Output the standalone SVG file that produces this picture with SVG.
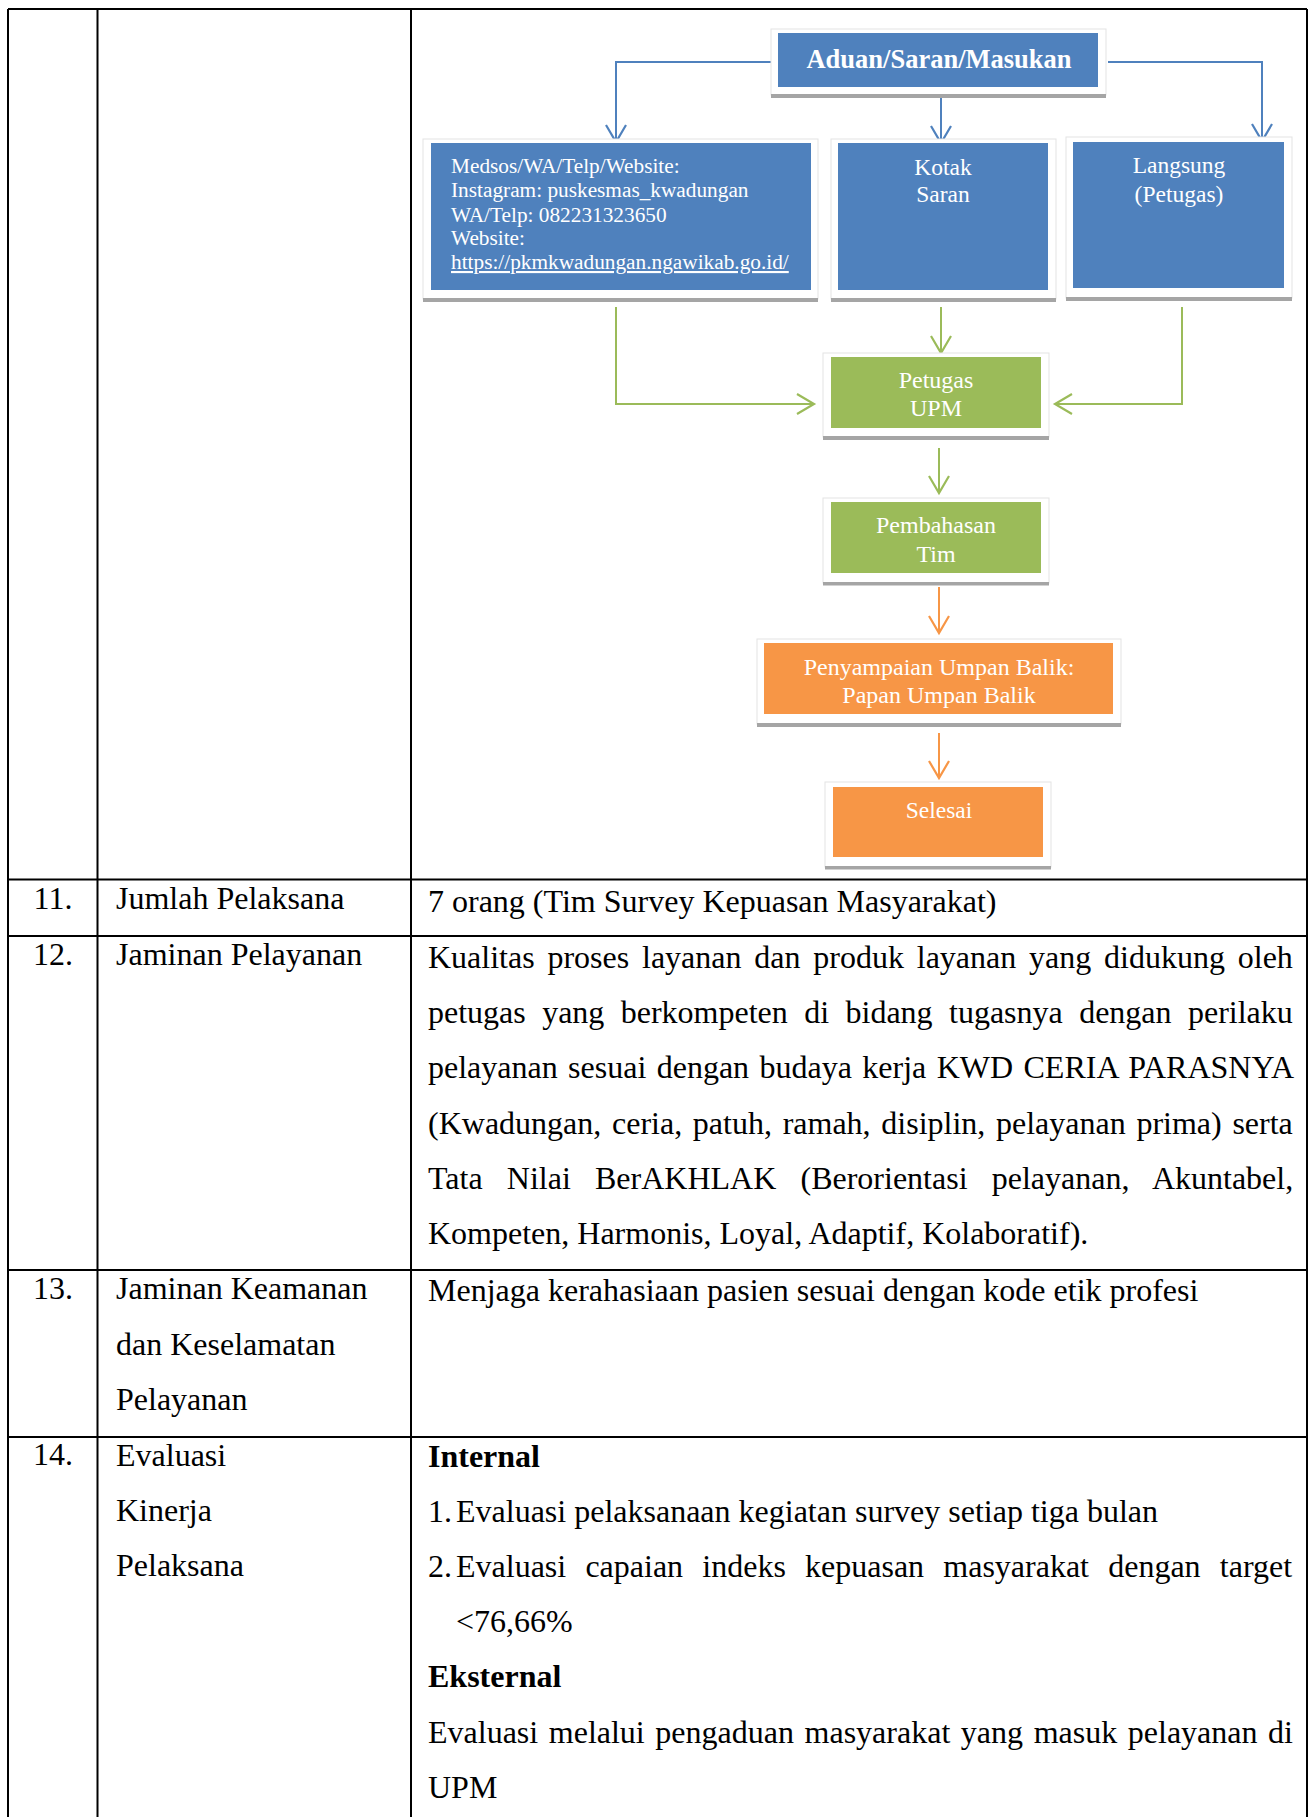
<svg xmlns="http://www.w3.org/2000/svg" width="1309" height="1817" viewBox="0 0 1309 1817">
<style>
.t{font-family:"Liberation Serif","Times New Roman",serif;font-size:32px;fill:#000}
.b{font-weight:bold}
.w{font-family:"Liberation Serif","Times New Roman",serif;fill:#fff}
.frame{fill:#fff;stroke:#e3e3e3;stroke-width:1}
.bar{fill:#a5a5a5}
.blue{fill:#4f81bd}
.green{fill:#9bbb59}
.orange{fill:#f79646}
.grid{stroke:#000;stroke-width:2;fill:none}
.cb{stroke:#4f81bd;stroke-width:2;fill:none}
.cg{stroke:#9bbb59;stroke-width:2;fill:none}
.co{stroke:#f79646;stroke-width:2;fill:none}
</style>
<defs>
<marker id="mb" markerUnits="userSpaceOnUse" markerWidth="30" markerHeight="30" viewBox="-22 -15 30 30" refX="0" refY="0" orient="auto"><path d="M-17,-10 L0,0 L-17,10" fill="none" stroke="#4f81bd" stroke-width="2.2"/></marker>
<marker id="mg" markerUnits="userSpaceOnUse" markerWidth="30" markerHeight="30" viewBox="-22 -15 30 30" refX="0" refY="0" orient="auto"><path d="M-17,-10 L0,0 L-17,10" fill="none" stroke="#9bbb59" stroke-width="2.2"/></marker>
<marker id="mo" markerUnits="userSpaceOnUse" markerWidth="30" markerHeight="30" viewBox="-22 -15 30 30" refX="0" refY="0" orient="auto"><path d="M-17,-10 L0,0 L-17,10" fill="none" stroke="#f79646" stroke-width="2.2"/></marker>
</defs>
<rect width="1309" height="1817" fill="#fff"/>

<g id="table">
<path class="grid" d="M8,9 H1307 M8,9 V1817 M97.5,9 V1817 M411,9 V1817 M1307,9 V1817 M8,879.5 H1307 M8,936 H1307 M8,1270 H1307 M8,1437 H1307"/>
</g>

<g id="connectors">
<path class="cb" d="M771,62 H616 V142" marker-end="url(#mb)"/>
<path class="cb" d="M1108,62 H1262 V141" marker-end="url(#mb)"/>
<path class="cb" d="M941,98 V143" marker-end="url(#mb)"/>
<path class="cg" d="M616,307 V404 H814" marker-end="url(#mg)"/>
<path class="cg" d="M941,307 V353" marker-end="url(#mg)"/>
<path class="cg" d="M1182,307 V404 H1055" marker-end="url(#mg)"/>
<path class="cg" d="M939,448 V493" marker-end="url(#mg)"/>
<path class="co" d="M939,587 V633" marker-end="url(#mo)"/>
<path class="co" d="M939,733 V778" marker-end="url(#mo)"/>
</g>

<g id="node-aduan">
<rect class="frame" x="771" y="29" width="335" height="66"/>
<rect class="bar" x="771" y="94" width="335" height="4"/>
<rect class="blue" x="778" y="33" width="320" height="54"/>
<text class="w b" x="939" y="68" font-size="26.5" text-anchor="middle">Aduan/Saran/Masukan</text>
</g>

<g id="node-medsos">
<rect class="frame" x="423" y="139" width="395" height="160"/>
<rect class="bar" x="423" y="298" width="395" height="4"/>
<rect class="blue" x="431" y="143" width="380" height="147"/>
<text class="w" font-size="21.3"><tspan x="451" y="173">Medsos/WA/Telp/Website:</tspan><tspan x="451" y="197">Instagram: puskesmas_kwadungan</tspan><tspan x="451" y="221.5">WA/Telp: 082231323650</tspan><tspan x="451" y="245">Website:</tspan><tspan x="451" y="269" text-decoration="underline">https://pkmkwadungan.ngawikab.go.id/</tspan></text>
</g>

<g id="node-kotak">
<rect class="frame" x="831" y="139" width="225" height="160"/>
<rect class="bar" x="831" y="298" width="225" height="4"/>
<rect class="blue" x="838" y="143" width="210" height="147"/>
<text class="w" font-size="23.5" text-anchor="middle"><tspan x="943" y="175">Kotak</tspan><tspan x="943" y="202">Saran</tspan></text>
</g>

<g id="node-langsung">
<rect class="frame" x="1066" y="137" width="226" height="161"/>
<rect class="bar" x="1066" y="297" width="226" height="4"/>
<rect class="blue" x="1073" y="142" width="211" height="146"/>
<text class="w" font-size="23.5" text-anchor="middle"><tspan x="1179" y="173">Langsung</tspan><tspan x="1179" y="201.5">(Petugas)</tspan></text>
</g>

<g id="node-petugas">
<rect class="frame" x="823" y="353" width="226" height="84"/>
<rect class="bar" x="823" y="436" width="226" height="4"/>
<rect class="green" x="831" y="357" width="210" height="71"/>
<text class="w" font-size="24" text-anchor="middle"><tspan x="936" y="388">Petugas</tspan><tspan x="936" y="416">UPM</tspan></text>
</g>

<g id="node-pembahasan">
<rect class="frame" x="823" y="498" width="226" height="85"/>
<rect class="bar" x="823" y="582" width="226" height="3.5"/>
<rect class="green" x="831" y="502" width="210" height="71"/>
<text class="w" font-size="24" text-anchor="middle"><tspan x="936" y="533">Pembahasan</tspan><tspan x="936" y="562">Tim</tspan></text>
</g>

<g id="node-penyampaian">
<rect class="frame" x="757" y="639" width="364" height="85"/>
<rect class="bar" x="757" y="723" width="364" height="4"/>
<rect class="orange" x="764" y="643" width="349" height="71"/>
<text class="w" font-size="24" text-anchor="middle"><tspan x="939" y="675">Penyampaian Umpan Balik:</tspan><tspan x="939" y="703">Papan Umpan Balik</tspan></text>
</g>

<g id="node-selesai">
<rect class="frame" x="825" y="782" width="226" height="85"/>
<rect class="bar" x="825" y="866" width="226" height="3.5"/>
<rect class="orange" x="833" y="787" width="210" height="70"/>
<text class="w" font-size="23.5" text-anchor="middle" x="939" y="818">Selesai</text>
</g>

<g id="row-11">
<text class="t" x="53" y="909" text-anchor="middle">11.</text>
<text class="t" x="116" y="909">Jumlah Pelaksana</text>
<text class="t" x="428" y="912">7 orang (Tim Survey Kepuasan Masyarakat)</text>
</g>

<g id="row-12">
<text class="t" x="53" y="965" text-anchor="middle">12.</text>
<text class="t" x="116" y="965">Jaminan Pelayanan</text>
<text class="t" x="428" y="968" word-spacing="4.8">Kualitas proses layanan dan produk layanan yang didukung oleh</text>
<text class="t" x="428" y="1023" word-spacing="8.4">petugas yang berkompeten di bidang tugasnya dengan perilaku</text>
<text class="t" x="428" y="1078" word-spacing="2.4">pelayanan sesuai dengan budaya kerja KWD CERIA PARASNYA</text>
<text class="t" x="428" y="1134" word-spacing="2.7">(Kwadungan, ceria, patuh, ramah, disiplin, pelayanan prima) serta</text>
<text class="t" x="428" y="1189" word-spacing="16.2">Tata Nilai BerAKHLAK (Berorientasi pelayanan, Akuntabel,</text>
<text class="t" x="428" y="1244">Kompeten, Harmonis, Loyal, Adaptif, Kolaboratif).</text>
</g>

<g id="row-13">
<text class="t" x="53" y="1299" text-anchor="middle">13.</text>
<text class="t" x="116" y="1299">Jaminan Keamanan</text>
<text class="t" x="116" y="1355">dan Keselamatan</text>
<text class="t" x="116" y="1410">Pelayanan</text>
<text class="t" x="428" y="1301">Menjaga kerahasiaan pasien sesuai dengan kode etik profesi</text>
</g>

<g id="row-14">
<text class="t" x="53" y="1465" text-anchor="middle">14.</text>
<text class="t" x="116" y="1466">Evaluasi</text>
<text class="t" x="116" y="1521">Kinerja</text>
<text class="t" x="116" y="1576">Pelaksana</text>
<text class="t b" x="428" y="1467">Internal</text>
<text class="t" x="428" y="1522">1.</text>
<text class="t" x="456" y="1522">Evaluasi pelaksanaan kegiatan survey setiap tiga bulan</text>
<text class="t" x="428" y="1577">2.</text>
<text class="t" x="456" y="1577" word-spacing="11.2">Evaluasi capaian indeks kepuasan masyarakat dengan target</text>
<text class="t" x="456" y="1632">&lt;76,66%</text>
<text class="t b" x="428" y="1687">Eksternal</text>
<text class="t" x="428" y="1743" word-spacing="2.6">Evaluasi melalui pengaduan masyarakat yang masuk pelayanan di</text>
<text class="t" x="428" y="1798">UPM</text>
</g>
</svg>
